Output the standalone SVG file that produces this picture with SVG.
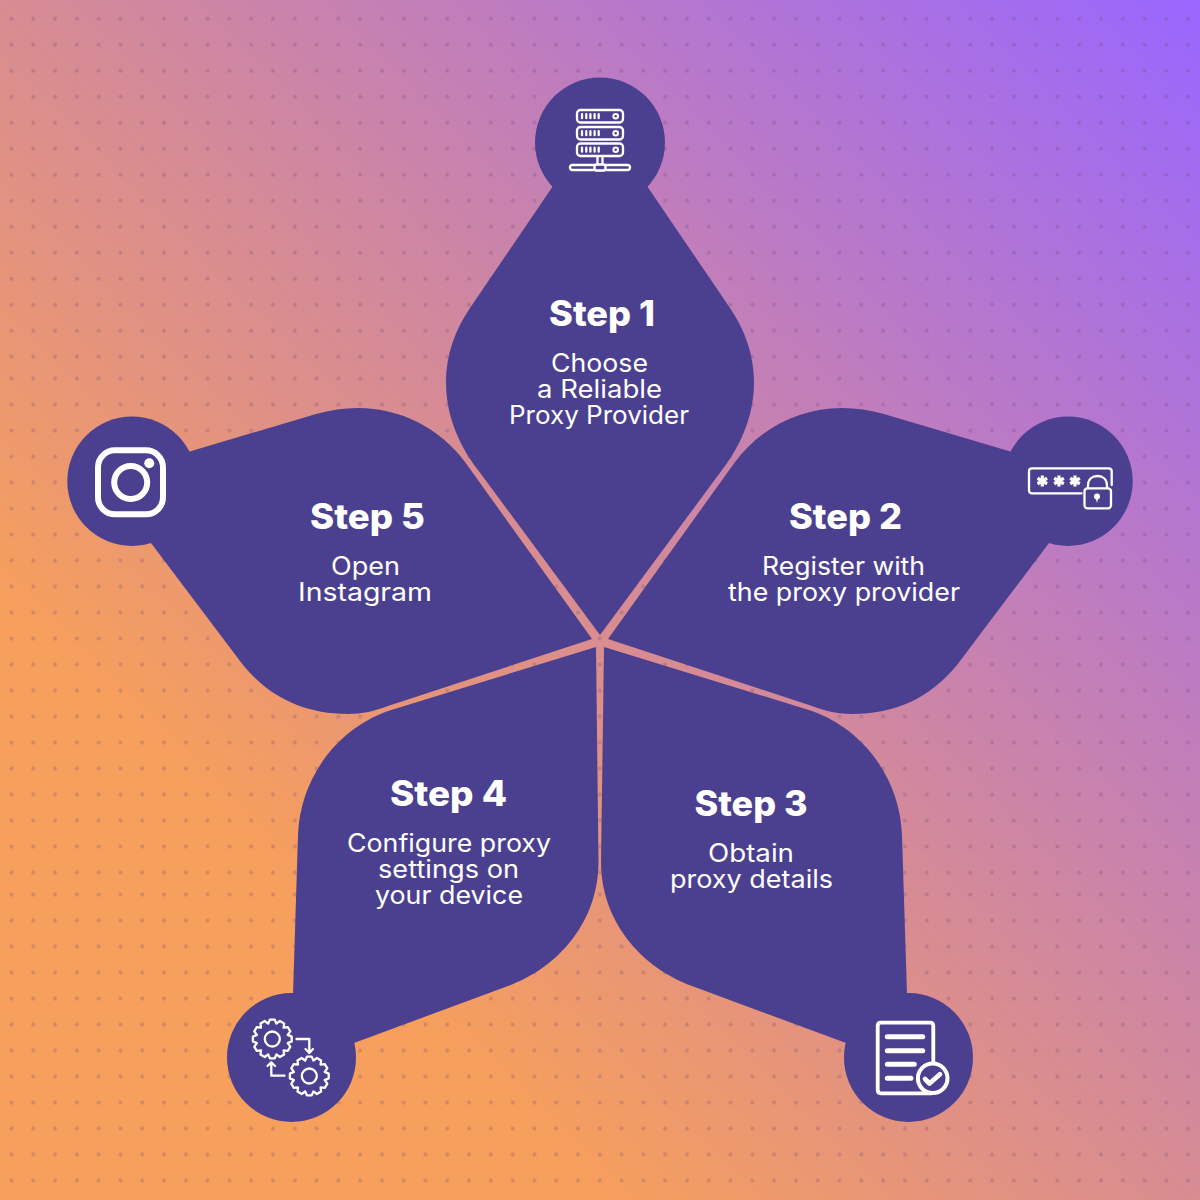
<svg xmlns="http://www.w3.org/2000/svg" width="1200" height="1200" viewBox="0 0 1200 1200">
<style>
.petal{fill:#4b4090}
.ln{fill:none;stroke:#fff;stroke-width:2.300;stroke-linecap:round;stroke-linejoin:round}
text{fill:#fff;font-family:"Inter","Liberation Sans",sans-serif;text-anchor:middle}
.h{font-size:35px;font-weight:800}
.b{font-size:25px;font-weight:400}
.dot{fill:#66486e;fill-opacity:.27}
</style>
<defs>
<linearGradient id="bg" gradientUnits="userSpaceOnUse" x1="0" y1="1200" x2="1200" y2="0">
<stop offset=".25" stop-color="#f79f5c"/><stop offset="1" stop-color="#9966ff"/>
</linearGradient>
<pattern id="d1" patternUnits="userSpaceOnUse" x=".6" y="5.7" width="21.79" height="26"><circle class="dot" cx="10.9" cy="13" r="1.9"/></pattern>
<pattern id="d2" patternUnits="userSpaceOnUse" x=".6" y="365.5" width="21.79" height="26"><circle class="dot" cx="10.9" cy="13" r="1.9"/></pattern>
<pattern id="d3" patternUnits="userSpaceOnUse" x=".6" y="881.5" width="21.79" height="26"><circle class="dot" cx="10.9" cy="13" r="1.9"/></pattern>
<polygon id="gear" class="ln" points="19.4,2.4 15.4,4.1 18,7.6 15.6,11.8 11.3,11.3 11.8,15.6 7.6,18 4.1,15.4 2.4,19.4 -2.4,19.4 -4.1,15.4 -7.6,18 -11.8,15.6 -11.3,11.3 -15.6,11.8 -18,7.6 -15.4,4.1 -19.4,2.4 -19.4,-2.4 -15.4,-4.1 -18,-7.6 -15.6,-11.8 -11.3,-11.3 -11.8,-15.6 -7.6,-18 -4.1,-15.4 -2.4,-19.4 2.4,-19.4 4.1,-15.4 7.6,-18 11.8,-15.6 11.3,-11.3 15.6,-11.8 18,-7.6 15.4,-4.1 19.4,-2.4"/>
<g id="srv"><rect class="ln" x="577" y="0" width="46" height="12.5" rx="3.5"/><path class="ln" d="M582 4.200v4M586.300 4.200v4M590.400 4.200v4M594.600 4.200v4M598.700 4.200v4"/><circle cx="615.700" cy="6.300" r="3.300" fill="#fff"/><circle cx="615.700" cy="6.300" r="1.200" fill="#4b4090"/></g>
<g id="star"><path d="M0 -5.500V5.500M-4.800 -2.750L4.800 2.750M-4.800 2.750L4.800 -2.750" fill="none" stroke="#fff" stroke-width="3.200" stroke-linecap="butt"/></g>
</defs>
<g id="background">
<rect width="1200" height="1200" fill="url(#bg)"/>
<rect width="1200" height="367" fill="url(#d1)"/>
<rect y="367" width="1200" height="516.500" fill="url(#d2)"/>
<rect y="883.500" width="1200" height="316.500" fill="url(#d3)"/>
</g>
<g id="connectors"></g>
<g id="step1">
<circle class="petal" cx="600" cy="142.500" r="65"/>
<path class="petal" d="M600 635L478 470C455 440 446 410 446 382C446 355 455 330 470 308L553 186H647L730 308C745 330 754 355 754 382C754 410 745 440 722 470Z"/>
<use href="#srv" y="110"/><use href="#srv" y="127"/><use href="#srv" y="143.500"/>
<path class="ln" d="M597.500 156.500V164M602.500 156.500V164"/>
<rect class="ln" x="570" y="165" width="60" height="5" rx="2.500"/>
<rect x="594.500" y="164.500" width="11" height="6" rx="2.500" fill="#4b4090" stroke="#fff" stroke-width="2.300"/>
<text class="h" x="602" y="326" textLength="106" lengthAdjust="spacingAndGlyphs">Step 1</text>
<text class="b" x="599.500" y="372" textLength="97" lengthAdjust="spacingAndGlyphs">Choose</text>
<text class="b" x="599.500" y="398" textLength="125" lengthAdjust="spacingAndGlyphs">a Reliable</text>
<text class="b" x="599" y="424" textLength="180" lengthAdjust="spacingAndGlyphs">Proxy Provider</text>
</g>
<g id="step2">
<circle class="petal" cx="1068" cy="481.300" r="64.700"/>
<path class="petal" d="M608 639L735 462C760 428 800 408 842 408C856 408 870 410 884 414L1012 452L1049 543L957 665C930 698 895 714 852 714C838 714 825 711 812 706Z"/>
<path class="ln" d="M1111.700 485V471.300Q1111.700 468.300 1108.700 468.300H1032Q1029 468.300 1029 471.300V490.300Q1029 493.300 1032 493.300H1081.500"/>
<use href="#star" x="1042.300" y="481"/><use href="#star" x="1059" y="481"/><use href="#star" x="1075" y="481"/>
<rect class="ln" x="1084.500" y="488.300" width="26.500" height="20" rx="3"/>
<path class="ln" d="M1088 488V485.500C1088 479.500 1092 476 1097.500 476C1103 476 1107 479.500 1107 485.500V488"/>
<circle cx="1097" cy="496.500" r="3" fill="#fff"/><path d="M1095.500 497H1098.500L1097 503Z" fill="#fff"/>
<text class="h" x="845.500" y="529" textLength="113" lengthAdjust="spacingAndGlyphs">Step 2</text>
<text class="b" x="843.500" y="575" textLength="163" lengthAdjust="spacingAndGlyphs">Register with</text>
<text class="b" x="844" y="601" textLength="232" lengthAdjust="spacingAndGlyphs">the proxy provider</text>
</g>
<g id="step3">
<circle class="petal" cx="908.500" cy="1057.500" r="64.500"/>
<path class="petal" d="M604 647L812 711C865 730 900 780 902 835L907 995L846 1043L692 986C640 967 601 920 601 862Z"/>
<path d="M932 1093.300H881Q877.700 1093.300 877.700 1090V1026Q877.700 1022.700 881 1022.700H930Q933.300 1022.700 933.300 1026V1063" fill="none" stroke="#fff" stroke-width="3.800" stroke-linejoin="round"/>
<path d="M887.300 1036.700H922.700M887.300 1050.700H922.700M887.300 1064.300H914.300M887.300 1078.300H911" fill="none" stroke="#fff" stroke-width="5" stroke-linecap="round"/>
<circle cx="932.700" cy="1078.300" r="14.800" fill="#4b4090" stroke="#fff" stroke-width="4"/>
<path d="M925 1079L929.500 1083.500L940 1074.300" fill="none" stroke="#fff" stroke-width="4.800" stroke-linecap="round" stroke-linejoin="round"/>
<text class="h" x="751" y="816" textLength="113" lengthAdjust="spacingAndGlyphs">Step 3</text>
<text class="b" x="751" y="862" textLength="86" lengthAdjust="spacingAndGlyphs">Obtain</text>
<text class="b" x="751.500" y="888" textLength="163" lengthAdjust="spacingAndGlyphs">proxy details</text>
</g>
<g id="step4">
<circle class="petal" cx="291.500" cy="1057.500" r="64.500"/>
<path class="petal" d="M596 647L388 711C335 730 300 780 298 835L293 995L354 1043L508 986C560 967 598.500 920 598.500 862Z"/>
<use href="#gear" x="272.300" y="1039"/><use href="#gear" x="309.300" y="1076"/>
<circle class="ln" cx="272.300" cy="1039" r="7.500"/><circle class="ln" cx="309.300" cy="1076" r="7.500"/>
<path class="ln" d="M296.500 1039H309.300V1052M305.500 1049L309.300 1053L313 1049M284.500 1075.700H271.300V1063M267.500 1066L271.300 1062.300L275 1066"/>
<text class="h" x="448.500" y="806" textLength="117" lengthAdjust="spacingAndGlyphs">Step 4</text>
<text class="b" x="449" y="852" textLength="204" lengthAdjust="spacingAndGlyphs">Configure proxy</text>
<text class="b" x="448.500" y="878" textLength="141" lengthAdjust="spacingAndGlyphs">settings on</text>
<text class="b" x="449" y="904" textLength="148" lengthAdjust="spacingAndGlyphs">your device</text>
</g>
<g id="step5">
<circle class="petal" cx="132" cy="481.300" r="64.700"/>
<path class="petal" d="M592 639L465 462C440 428 400 408 358 408C344 408 330 410 316 414L188 452L151 543L243 665C270 698 305 714 348 714C362 714 375 711 388 706Z"/>
<rect x="98" y="450.300" width="65" height="64" rx="17" fill="none" stroke="#fff" stroke-width="6"/>
<circle cx="130.700" cy="482.500" r="16.500" fill="none" stroke="#fff" stroke-width="6"/>
<circle cx="149.300" cy="463.300" r="5" fill="#fff"/>
<text class="h" x="367.500" y="529" textLength="115" lengthAdjust="spacingAndGlyphs">Step 5</text>
<text class="b" x="365.500" y="575" textLength="69" lengthAdjust="spacingAndGlyphs">Open</text>
<text class="b" x="365" y="601" textLength="134" lengthAdjust="spacingAndGlyphs">Instagram</text>
</g>
</svg>
